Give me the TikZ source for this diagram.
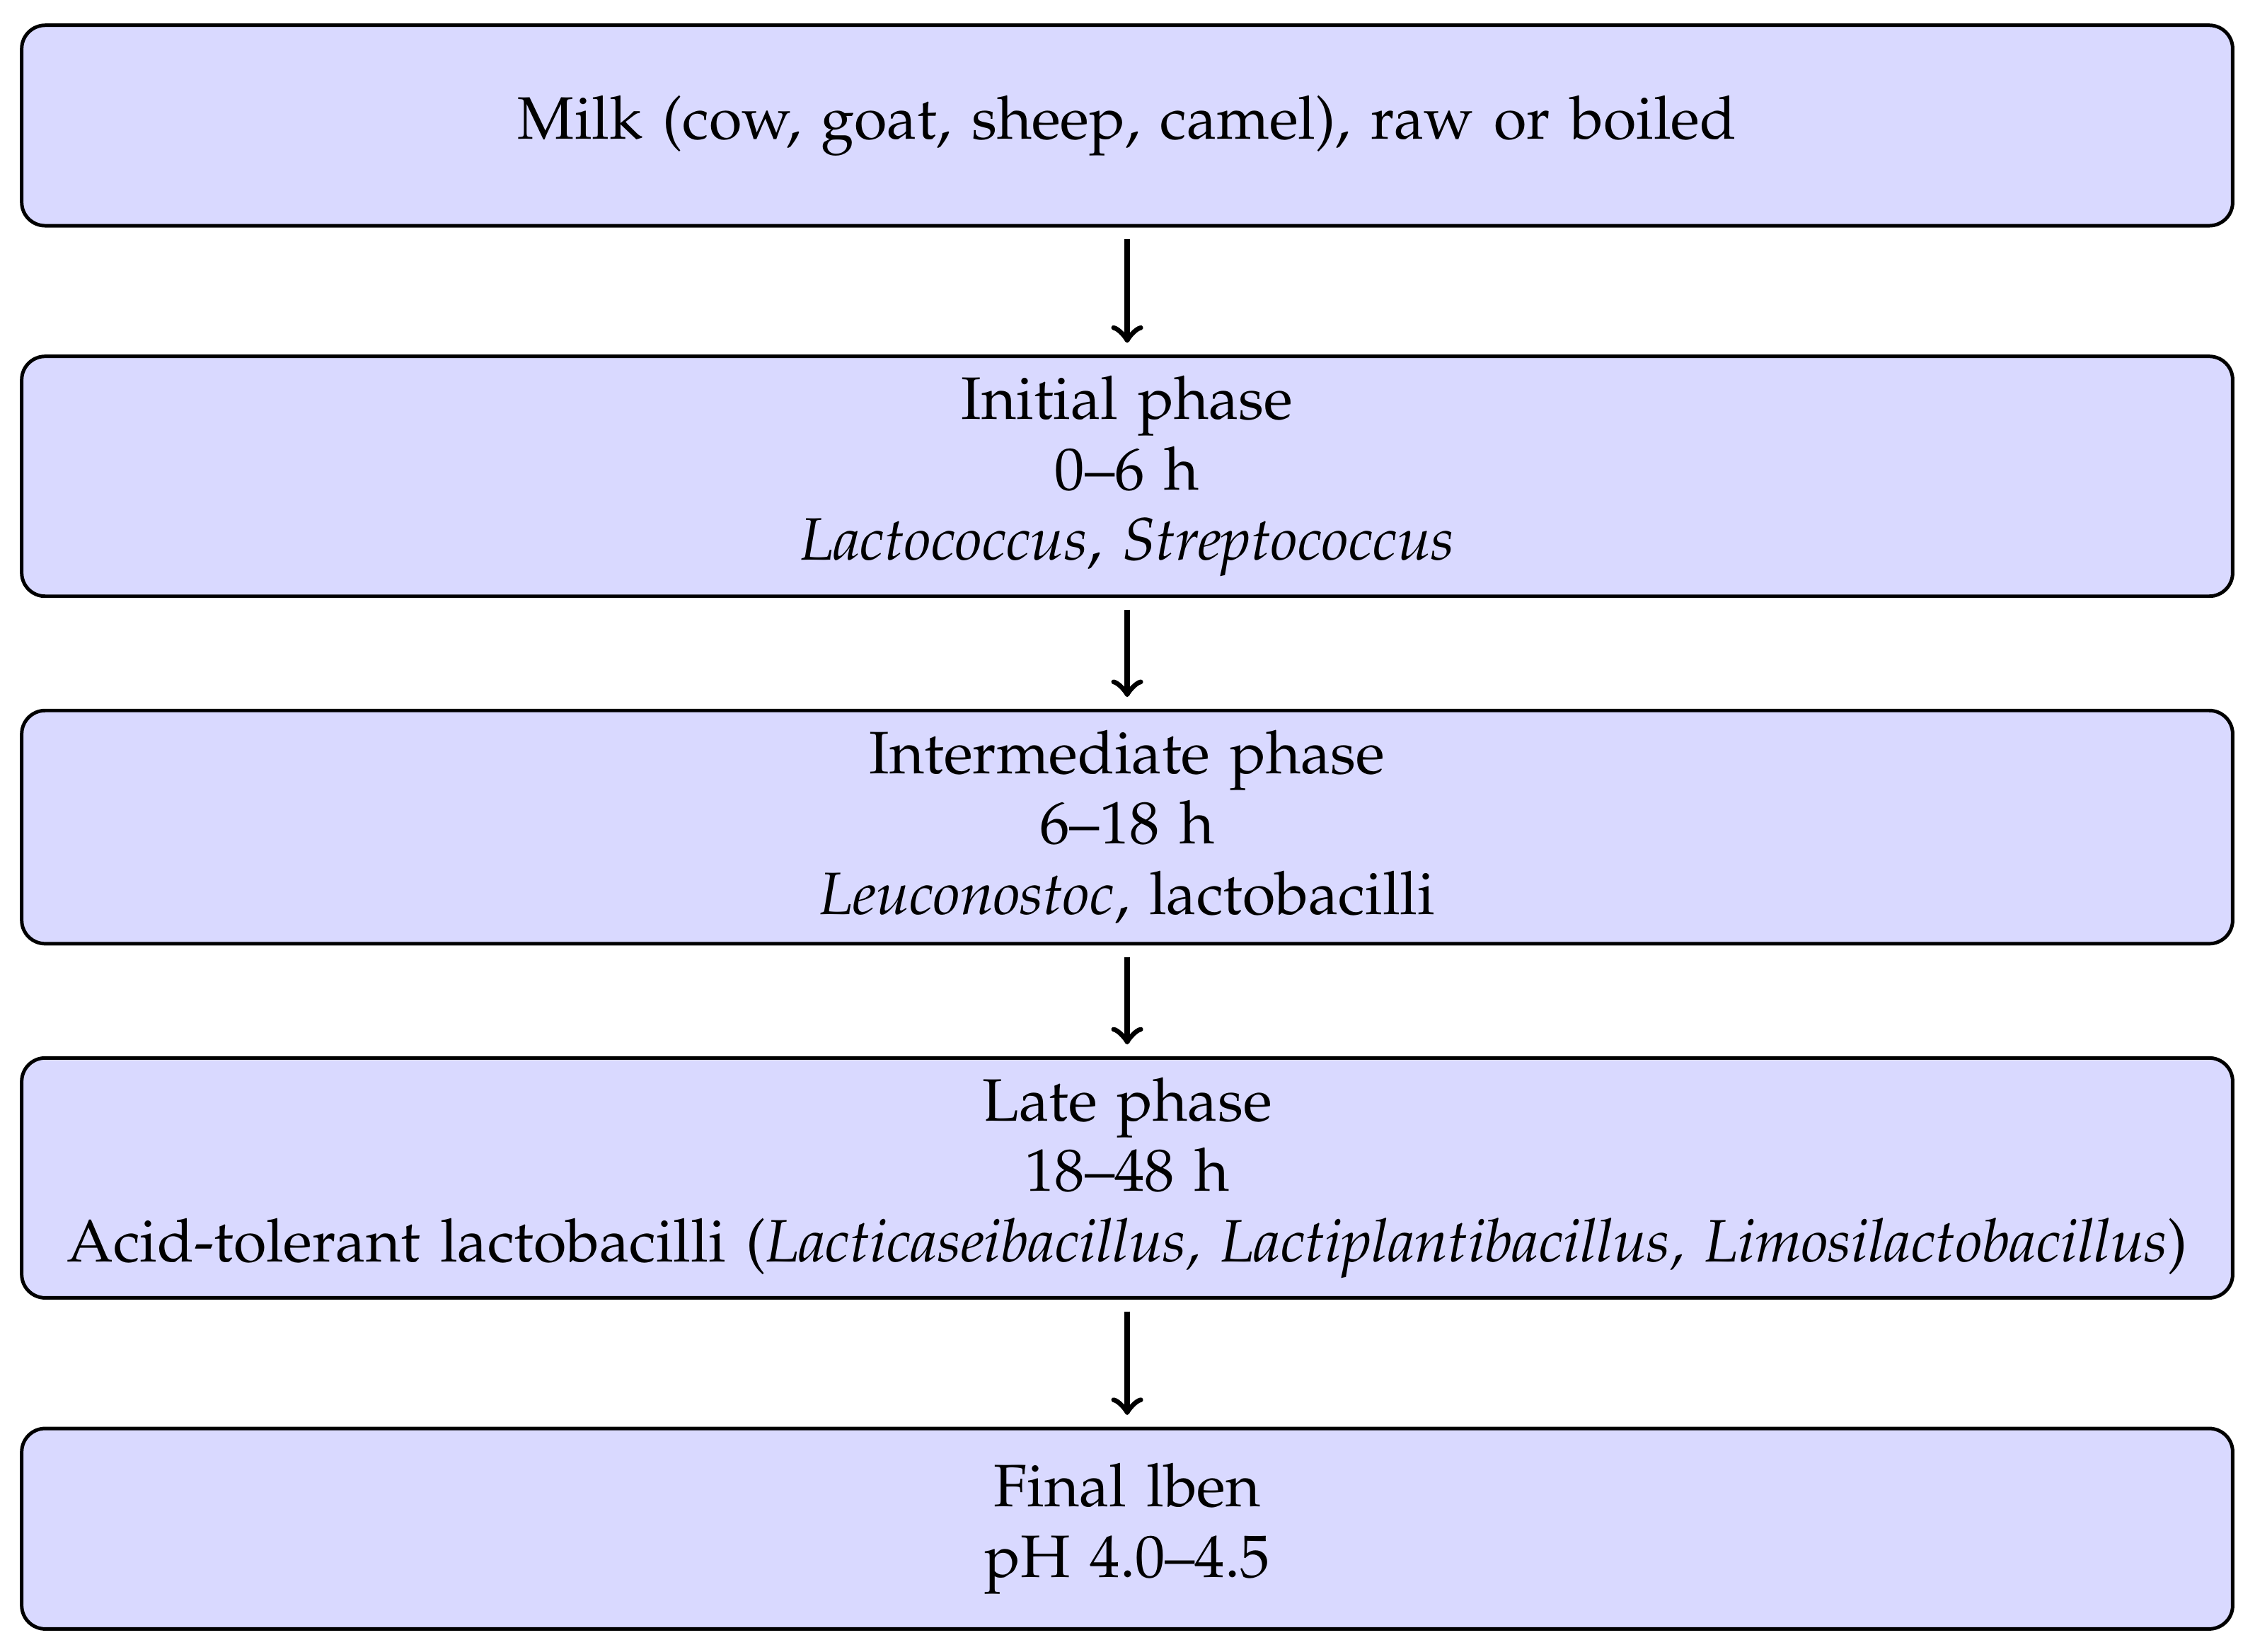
\documentclass[tikz,border=0pt]{standalone}
\usepackage[T1]{fontenc}
\usepackage{mathpazo}
\usepackage{tikz}
\usetikzlibrary{arrows}

\begin{document}
\begin{tikzpicture}[
            > = to, % arrow head style
            node distance = 2.1cm, % distance between node centres
            phase/.style = {draw, semithick, fill=blue!15, rounded corners,
                font=\fontsize{10.2pt}{12pt}\selectfont,
                text width=13cm, align=center, minimum height=1.2cm}, % box style
            step line/.style = {->, line width=1pt, shorten >=2pt, shorten <=2pt} % arrow style
        ]

	\node[phase] (milk) {Milk (cow, goat, sheep, camel), raw or boiled};
	\node[phase] (initial) [below of=milk] {Initial phase\\0--6 h\\\emph{Lactococcus}, \emph{Streptococcus}};
	\node[phase] (inter) [below of=initial] {Intermediate phase\\6--18 h\\\emph{Leuconostoc}, lactobacilli};
	\node[phase] (late) [below of=inter] {Late phase\\18--48 h\\Acid-tolerant lactobacilli (\emph{Lacticaseibacillus, Lactiplantibacillus, Limosilactobacillus})};
	\node[phase] (lben) [below of=late] {Final lben\\pH 4.0--4.5};

	\draw[step line] (milk) -- (initial);
	\draw[step line] (initial) -- (inter);
	\draw[step line] (inter) -- (late);
	\draw[step line] (late) -- (lben);

	\useasboundingbox ([xshift=-3.4pt,yshift=4pt]milk.north west) rectangle ([xshift=3.5pt,yshift=-3.6pt]lben.south east);
   
\end{tikzpicture}
\end{document}
